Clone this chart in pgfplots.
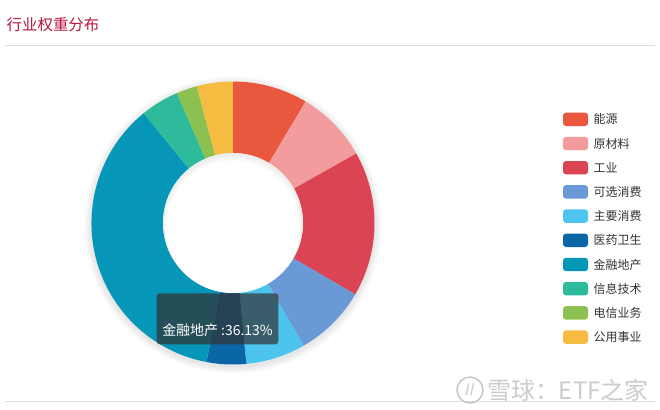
\documentclass[border=0pt]{standalone}
\usepackage{fontspec}
\setmainfont{Noto Sans CJK SC}
\usepackage{pgfplots}
\usepackage{pgfplotstable}
\pgfplotsset{compat=1.18}

% slice colours, in table order
\definecolor{c0}{HTML}{E9573F}
\definecolor{c1}{HTML}{F39C9E}
\definecolor{c2}{HTML}{DB4453}
\definecolor{c3}{HTML}{6A9AD5}
\definecolor{c4}{HTML}{4CC4EE}
\definecolor{c5}{HTML}{0A66A6}
\definecolor{c6}{HTML}{0696B8}
\definecolor{c7}{HTML}{2EBB9B}
\definecolor{c8}{HTML}{8CC152}
\definecolor{c9}{HTML}{F6BC42}
\definecolor{titlered}{HTML}{B8173F}
\definecolor{txt}{HTML}{333333}

% industry weights (%), clockwise from 12 o'clock
\pgfplotstableread[col sep=comma]{
name,value
能源,8.58
原材料,8.25
工业,16.58
可选消费,8.28
主要消费,6.81
医药卫生,4.50
金融地产,36.13
信息技术,4.39
电信业务,2.36
公用事业,4.11
}\sectors

\begin{document}
\begin{tikzpicture}
\begin{axis}[
  width=660bp, height=409bp, scale only axis,
  xmin=0, xmax=660, ymin=0, ymax=409, y dir=reverse,
  hide axis, clip=false,
]
\pgfplotsextra{
  \fill[white] (axis cs:0,0) rectangle (axis cs:660,409);
  % title and rules
  \node[anchor=west, text=titlered, font=\fontsize{15.5}{18}\selectfont, inner sep=0]
    at (axis cs:6.5,25) {行业权重分布};
  \draw[black!13, line width=1bp] (axis cs:5,45.5) -- (axis cs:655,45.5);
  \draw[black!13, line width=1bp] (axis cs:5,401) -- (axis cs:655,401);
  % soft shadow round the ring
  \foreach \r in {142.5,144,145.5,147,148.5}{
    \fill[black, opacity=0.02] ([yshift=-2bp]axis cs:233,223) circle[radius=\r bp];
  }
  \pgfplotstablegetrowsof{\sectors}
  \pgfmathtruncatemacro\last{\pgfplotsretval-1}
  \gdef\acc{0}
  \foreach \i in {0,...,\last}{
    \pgfplotstablegetelem{\i}{value}\of\sectors
    \let\val\pgfplotsretval
    \pgfplotstablegetelem{\i}{name}\of\sectors
    \let\nm\pgfplotsretval
    \pgfmathsetmacro\a{90-3.6*\acc}
    \pgfmathsetmacro\b{90-3.6*(\acc+\val)}
    \fill[c\i] ([shift={(\a:141.5bp)}]axis cs:233,223)
      arc[start angle=\a, end angle=\b, radius=141.5bp]
      -- ([shift={(\b:70bp)}]axis cs:233,223)
      arc[start angle=\b, end angle=\a, radius=70bp] -- cycle;
    % legend row
    \pgfmathsetmacro\ly{119.3+24.2*\i}
    \pgfmathsetmacro\lya{\ly-6.7}
    \pgfmathsetmacro\lyb{\ly+6.7}
    \fill[c\i, rounded corners=3bp] (axis cs:563,\lya) rectangle (axis cs:588,\lyb);
    \node[anchor=west, text=txt, font=\fontsize{12}{14}\selectfont, inner sep=0]
      at (axis cs:593.5,\ly) {\nm};
    \pgfmathsetmacro\newacc{\acc+\val}
    \xdef\acc{\newacc}
  }
  % white hole with a faint shadow at its upper edge
  \fill[white] (axis cs:233,223) circle[radius=70bp];
  \foreach \k in {1,2,3}{
    \begin{scope}
      \clip (axis cs:233,223) circle[radius=70bp];
      \fill[black, opacity=0.025, even odd rule] (axis cs:233,223) circle[radius=72bp]
        ([yshift=-1.5*\k bp]axis cs:233,223) circle[radius=70bp-\k bp];
    \end{scope}
  }
  % tooltip
  \fill[fill={rgb,255:red,50;green,50;blue,50}, opacity=0.7, rounded corners=3bp]
    (axis cs:156.7,293.3) rectangle (axis cs:278.3,344.3);
  \node[text=white, font=\fontsize{14}{16}\selectfont, inner sep=0]
    at (axis cs:217.5,330) {金融地产 :36.13\%};
  % watermark
  \draw[black!22, line width=1.5bp] (axis cs:470,390) circle[radius=13bp];
  \node[text=black!20, font=\fontsize{12}{14}\selectfont\bfseries, inner sep=0]
    at (axis cs:470,390) {//};
  \node[anchor=west, text=black!20, font=\fontsize{24}{28}\selectfont, inner sep=0]
    at (axis cs:487,390) {雪球：ETF之家};
}
\end{axis}
\end{tikzpicture}
\end{document}
